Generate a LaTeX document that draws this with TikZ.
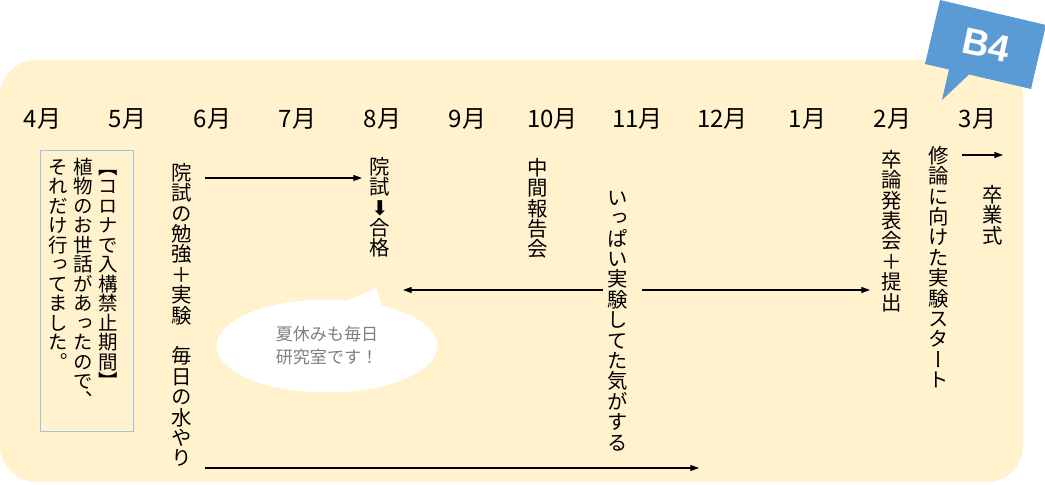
\documentclass[tikz,border=0pt]{standalone}
\usepackage{fontspec}
\usetikzlibrary{arrows.meta,shapes.geometric}
\newfontfamily\jp{Noto Sans CJK JP}
\newfontfamily\jpv[RawFeature=+vert]{Noto Sans CJK JP}
\newfontfamily\djv{DejaVu Sans}
\newfontfamily\badgefont{Liberation Sans}
\definecolor{bgyellow}{HTML}{FFF2CC}
\definecolor{badgeblue}{HTML}{5B9BD5}
\definecolor{boxblue}{HTML}{9DC3E6}
\definecolor{bubblegray}{HTML}{808080}
\newdimen\vtstep
\def\vtendmark{\vtend}
\makeatletter
\newcommand\vtext[1]{\vtop{\offinterlineskip\vtstep=1em\relax\vt@loop#1\vtend}}
\def\vt@loop#1{\def\vt@tmp{#1}\ifx\vt@tmp\vtendmark\else\vt@char{#1}\expandafter\vt@loop\fi}
\def\vt@char#1{\hbox to \vtstep{\hss\vrule height .88\vtstep depth .12\vtstep width 0pt\relax#1\hss}}
\makeatother
\tikzset{
  month/.style={inner sep=0pt, font=\jp\fontsize{18}{18}\selectfont},
  vcol/.style={inner sep=0pt, anchor=north, font=\jpv\fontsize{15.3}{15.3}\selectfont},
  arr/.style={line width=0.8pt, -{Triangle[length=6.5pt,width=4.5pt]}},
}
\begin{document}
\begin{tikzpicture}[x=0.75pt,y=-0.75pt]
\useasboundingbox (0,0) rectangle (1045,485);
% background
\fill[bgyellow, rounded corners=27pt] (0,60) rectangle (1023,482);
% badge
\fill[badgeblue] (940,0) -- (1046,25) -- (1031,89) -- (969,74.5) -- (942,100) -- (949,69.5) -- (925,64) -- cycle;
\node[inner sep=0pt, rotate=-12, text=white, font=\badgefont\bfseries\fontsize{28}{28}\selectfont] (b4) at (986,45) {B4};
% months
\foreach \m [count=\i from 0] in {4,5,6,7,8,9,10,11,12,1,2,3}
  \node[month] (m\m) at (42.5+85*\i,119) {\m 月};
% left box
\node[draw=boxblue, line width=0.8pt, minimum width=69.75pt, minimum height=210.75pt, anchor=north west, inner sep=0pt] (box) at (40,150) {};
\node[inner sep=0pt, anchor=north, font=\jpv\fontsize{14.6}{14.6}\selectfont] (boxtext) at (83,157)
  {\hbox{\vtext{それだけ行ってました。}\hspace{4.1pt}\vtext{植物のお世話があったので、}\hspace{4.1pt}\vtext{【コロナで入構禁止期間】}}};
% vertical columns
\node[vcol] (v6) at (182,162) {\vtext{院試の勉強＋実験　毎日の水やり}};
\node[vcol] (v8) at (380,156) {\vtext{院試{\djv ⬇}合格}};
\node[vcol] (v10) at (538,157) {\vtext{中間報告会}};
\node[vcol] (v11) at (618,187) {\vtext{いっぱい実験してた気がする}};
\node[vcol] (v2) at (892,149) {\vtext{卒論発表会＋提出}};
\node[vcol] (v2b) at (939,145) {\vtext{修論に向けた実験スタート}};
\node[vcol] (v3) at (993,184) {\vtext{卒業式}};
% bubble
\fill[white] (343,302) -- (376,288) -- (382,307) -- cycle;
\node[ellipse, fill=white, minimum width=165.75pt, minimum height=69.75pt, inner sep=0pt, align=center,
      text=bubblegray, font=\jp\fontsize{12.8}{17.25}\selectfont] (bubble) at (327,346) {夏休みも毎日\\研究室です！};
% arrows
\coordinate (a1s) at (205,178); \coordinate (a1e) at (362,178);
\draw[arr] (a1s) -- (a1e);
\coordinate (a2s) at (603,290); \coordinate (a2e) at (403,290);
\draw[arr] (a2s) -- (a2e);
\coordinate (a3s) at (642,290); \coordinate (a3e) at (870,290);
\draw[arr] (a3s) -- (a3e);
\coordinate (a4s) at (205,468); \coordinate (a4e) at (699,468);
\draw[arr] (a4s) -- (a4e);
\coordinate (a5s) at (962,155); \coordinate (a5e) at (1003,155);
\draw[arr] (a5s) -- (a5e);
\end{tikzpicture}
\end{document}
